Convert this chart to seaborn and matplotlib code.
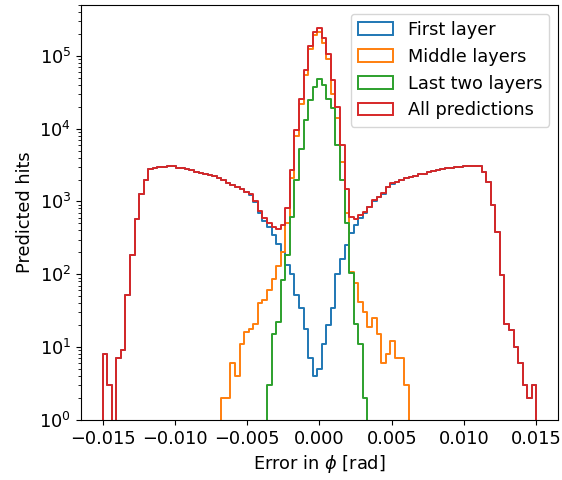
import numpy as np
import matplotlib
matplotlib.use("Agg")
import matplotlib.pyplot as plt
from matplotlib.patches import Patch
import seaborn as sns

# phi error histogram, 95 equal bins between -0.015 and 0.015 rad
phi_lo, phi_hi, n_bins = -0.015, 0.015, 95

first_layer = [
    8, 3, 0, 7, 9, 52, 183, 566, 1250, 2000,
    2750, 2900, 2950, 3000, 3080, 3050, 2920, 2880, 2800, 2690,
    2550, 2420, 2350, 2300, 2200, 2100, 1958, 1798, 1694, 1596,
    1469, 1334, 1232, 979, 700, 545, 440, 350, 260, 200,
    134, 100, 52, 35, 18, 7, 4, 5, 11, 20,
    35, 100, 160, 250, 364, 480, 600, 690, 830, 1015,
    1135, 1284, 1582, 1758, 1843, 1953, 2097, 2180, 2250, 2350,
    2400, 2500, 2600, 2700, 2750, 2850, 2900, 2950, 3000, 3050,
    3050, 3100, 3050, 2550, 1860, 890, 383, 97, 21, 17,
    10, 6, 3, 2, 3,
]
middle_layers = [
    0, 0, 0, 0, 0, 0, 0, 0, 0, 0,
    0, 0, 0, 0, 0, 0, 0, 0, 0, 0,
    0, 0, 0, 0, 0, 0, 2, 2, 6, 4,
    11, 16, 18, 21, 40, 45, 60, 85, 130, 200,
    500, 2100, 7800, 21500, 54000, 122000, 190000, 212000, 150000, 90000,
    30000, 14000, 3500, 700, 108, 75, 42, 30, 19, 25,
    15, 6, 8, 12, 7, 7, 3, 0, 0, 0,
    0, 0, 0, 0, 0, 0, 0, 0, 0, 0,
    0, 0, 0, 0, 0, 0, 0, 0, 0, 0,
    0, 0, 0, 0, 0,
]
last_two_layers = [
    0, 0, 0, 0, 0, 0, 0, 0, 0, 0,
    0, 0, 0, 0, 0, 0, 0, 0, 0, 0,
    0, 0, 0, 0, 0, 0, 0, 0, 0, 0,
    0, 0, 0, 0, 0, 0, 3, 15, 22, 83,
    183, 615, 1960, 5300, 13100, 24600, 37300, 48600, 39600, 25800,
    19000, 6000, 2000, 500, 103, 21, 11, 2, 0, 0,
    0, 0, 0, 0, 0, 0, 0, 0, 0, 0,
    0, 0, 0, 0, 0, 0, 0, 0, 0, 0,
    0, 0, 0, 0, 0, 0, 0, 0, 0, 0,
    0, 0, 0, 0, 0,
]
all_predictions = [
    8, 3, 0, 7, 9, 52, 183, 566, 1250, 2000,
    2750, 2900, 2950, 3000, 3080, 3050, 2920, 2880, 2800, 2690,
    2550, 2420, 2350, 2300, 2200, 2100, 1960, 1800, 1700, 1600,
    1480, 1350, 1250, 1000, 740, 590, 500, 450, 412, 473,
    800, 2700, 9500, 25800, 63000, 138000, 213000, 240000, 173000, 107000,
    46000, 20000, 5900, 1500, 620, 580, 650, 720, 850, 1040,
    1150, 1290, 1590, 1770, 1850, 1960, 2100, 2180, 2250, 2350,
    2400, 2500, 2600, 2700, 2750, 2850, 2900, 2950, 3000, 3050,
    3050, 3100, 3050, 2550, 1860, 890, 383, 97, 21, 17,
    10, 6, 3, 2, 3,
]

series = [first_layer, middle_layers, last_two_layers, all_predictions]
labels = ["First layer", "Middle layers", "Last two layers", "All predictions"]

sns.set_style("ticks")
plt.rcParams["font.family"] = ["DejaVu Sans"]
plt.rcParams["font.size"] = 12.8
plt.rcParams["axes.edgecolor"] = "black"
plt.rcParams["xtick.color"] = "black"
plt.rcParams["ytick.color"] = "black"
plt.rcParams["text.color"] = "black"
plt.rcParams["axes.labelcolor"] = "black"
colors = sns.color_palette("tab10", 4)

edges = np.linspace(phi_lo, phi_hi, n_bins + 1)
width = edges[1] - edges[0]
# an empty bin on each side so every outline starts and ends on the axis
edges = np.concatenate([[edges[0] - width], edges, [edges[-1] + width]])
centers = 0.5 * (edges[:-1] + edges[1:])

fig, ax = plt.subplots(figsize=(5.62, 4.8), dpi=100)
fig.subplots_adjust(left=0.144, right=0.993, top=0.99, bottom=0.125)

for vals, col in zip(series, colors):
    counts = np.concatenate([[0], vals, [0]])
    sns.histplot(x=centers, weights=counts, bins=list(edges), element="step",
                 fill=False, color=col, linewidth=1.4, ax=ax)

ax.set_yscale("log")
ax.set_ylim(1, 5e5)
ax.set_xlim(-0.0165, 0.0165)
ax.set_xlabel(r"Error in $\phi$ [rad]")
ax.set_ylabel("Predicted hits")

handles = [Patch(facecolor="none", edgecolor=c, linewidth=1.4, label=l)
           for c, l in zip(colors, labels)]
ax.legend(handles=handles, loc="upper right")

fig.savefig("out.png", dpi=100)
